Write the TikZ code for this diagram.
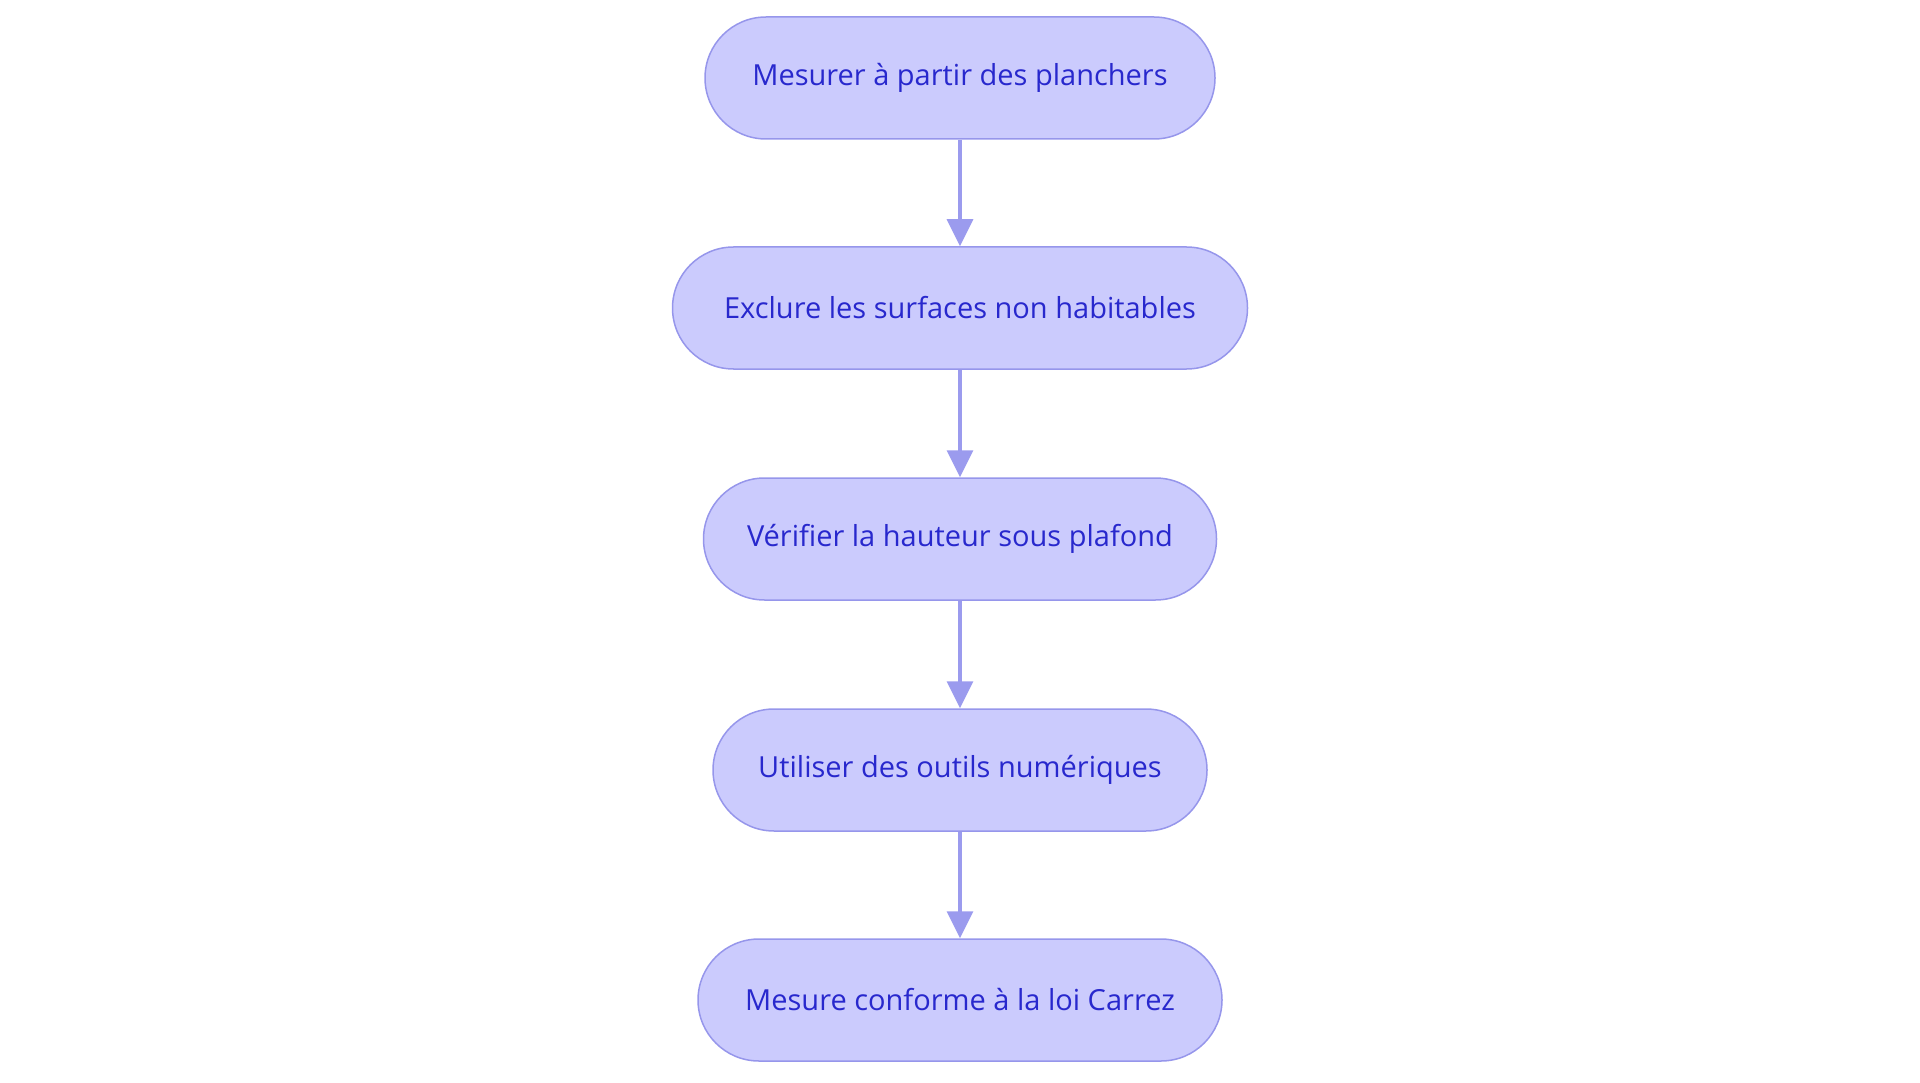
\documentclass[tikz,border=0pt]{standalone}
\usepackage{fontspec}
\setmainfont{Open Sans}
\usetikzlibrary{arrows.meta}
\definecolor{boxfill}{RGB}{203,203,253}
\definecolor{boxline}{RGB}{150,150,235}
\definecolor{boxtext}{RGB}{40,40,205}
\definecolor{arrowcol}{RGB}{155,155,238}
\begin{document}
\begin{tikzpicture}[x=1pt,y=1pt,
  stepbox/.style={draw=boxline, fill=boxfill, line width=1.5pt, rounded corners=61pt,
    minimum height=122pt, inner sep=0pt, text=boxtext, font=\fontsize{29}{34}\selectfont},
  conn/.style={draw=arrowcol, line width=3.5pt, -{Triangle[length=27pt,width=26pt]}}]
\useasboundingbox (0,0) rectangle (1920,-1083);
\node[stepbox, minimum width=510pt] (n1) at (960,-78) {Mesurer à partir des planchers};
\node[stepbox, minimum width=575pt] (n2) at (960,-308) {Exclure les surfaces non habitables};
\node[stepbox, minimum width=513pt] (n3) at (960,-539) {Vérifier la hauteur sous plafond};
\node[stepbox, minimum width=494pt] (n4) at (960,-770) {Utiliser des outils numériques};
\node[stepbox, minimum width=524pt] (n5) at (960,-1000) {Mesure conforme à la loi Carrez};
\draw[conn] (n1) -- (n2);
\draw[conn] (n2) -- (n3);
\draw[conn] (n3) -- (n4);
\draw[conn] (n4) -- (n5);
\end{tikzpicture}
\end{document}
